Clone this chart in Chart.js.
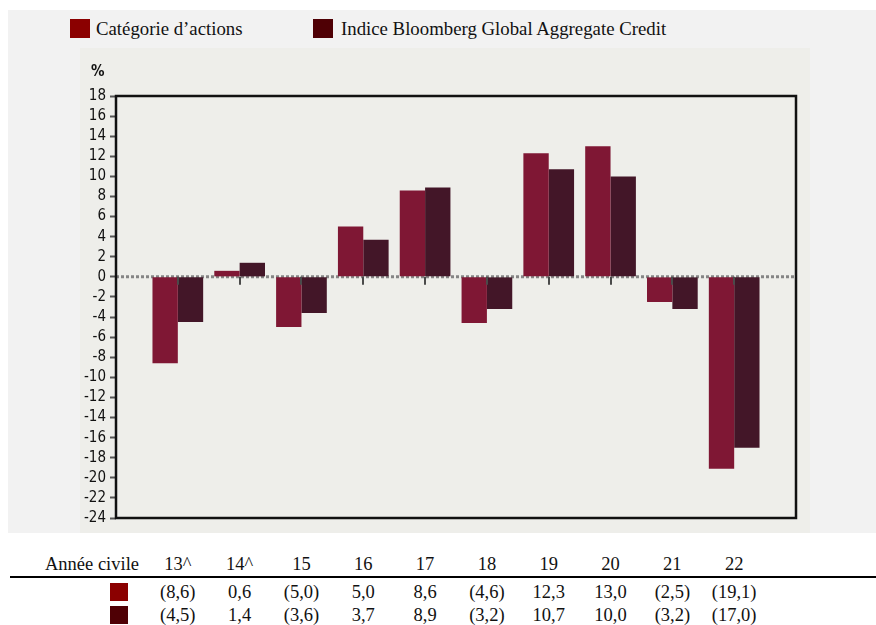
<!DOCTYPE html>
<html>
<head>
<meta charset="utf-8">
<script src="https://cdn.jsdelivr.net/npm/chart.js@4.4.1/dist/chart.umd.min.js"></script>
<style>
  body { margin: 0; background: #fff; width: 876px; height: 625px; position: relative; overflow: hidden;
         font-family: "Liberation Serif", "Times New Roman", serif; color: #111; }
  #outer { position: absolute; left: 8px; top: 10px; width: 868px; height: 523px; background: #f2f2f2; }
  #panel { position: absolute; left: 80px; top: 48px; width: 730px; height: 485px; background: #eeeeea; }
  .sw { position: absolute; width: 20px; height: 19px; }
  .lg { position: absolute; font-size: 18.8px; line-height: 20px; white-space: nowrap; }
  #pct { position: absolute; left: 91px; top: 62px; font-family: "DejaVu Sans Condensed", sans-serif; font-size: 15px; font-weight: bold; }
  .cell { position: absolute; font-size: 18.5px; line-height: 20px; white-space: nowrap; transform: translateX(-50%); }
  #rule { position: absolute; left: 10px; top: 576px; width: 866px; height: 2px; background: #000; }
</style>
</head>
<body>
<div id="outer"></div>
<div id="panel"><canvas id="chart"></canvas></div>
<div class="sw" style="left:70px;top:19px;background:#8b0000"></div>
<div class="lg" style="left:96px;top:19px">Catégorie d’actions</div>
<div class="sw" style="left:313px;top:19px;background:#4f0005"></div>
<div class="lg" style="left:341px;top:19px">Indice Bloomberg Global Aggregate Credit</div>
<div id="pct">%</div>
<div id="rule"></div>
<div id="table"></div>
<script>
// Data
const categories = ["13^", "14^", "15", "16", "17", "18", "19", "20", "21", "22"];
const fundReturns = [-8.6, 0.6, -5.0, 5.0, 8.6, -4.6, 12.3, 13.0, -2.5, -19.1];
const indexReturns = [-4.5, 1.4, -3.6, 3.7, 8.9, -3.2, 10.7, 10.0, -3.2, -17.0];
const seriesNames = ["Catégorie d’actions", "Indice Bloomberg Global Aggregate Credit"];
const yMin = -24, yMax = 18, yStep = 2;

const barColors = ["#7f1734", "#431628"];
const swatchColors = ["#8b0000", "#4f0005"];

// zero line, category ticks and frame
const framePlugin = {
  id: "frame",
  beforeDatasetsDraw(chart) {
    const { ctx, chartArea: a, scales: { y } } = chart;
    const y0 = y.getPixelForValue(0);
    ctx.save();
    ctx.strokeStyle = "#858585";
    ctx.lineWidth = 3;
    ctx.setLineDash([3, 2]);
    ctx.beginPath();
    ctx.moveTo(a.left, y0);
    ctx.lineTo(a.right, y0);
    ctx.stroke();
    ctx.restore();
  },
  afterDatasetsDraw(chart) {
    const { ctx, chartArea: a, scales: { x, y } } = chart;
    const y0 = y.getPixelForValue(0);
    ctx.save();
    ctx.strokeStyle = "#4a4a4a";
    ctx.lineWidth = 2;
    categories.forEach((c, i) => {
      const px = Math.round(x.getPixelForValue(i + 1));
      ctx.beginPath();
      ctx.moveTo(px, y0);
      ctx.lineTo(px, y0 + 8);
      ctx.stroke();
    });
    ctx.strokeStyle = "#111";
    ctx.lineWidth = 2.5;
    ctx.strokeRect(a.left, a.top, a.right - a.left, a.bottom - a.top);
    ctx.restore();
  }
};

const chart = new Chart(document.getElementById("chart"), {
  type: "bar",
  data: {
    datasets: [
      {
        label: seriesNames[0],
        data: fundReturns.map((v, i) => ({ x: i + 1, y: v })),
        backgroundColor: barColors[0],
      },
      {
        label: seriesNames[1],
        data: indexReturns.map((v, i) => ({ x: i + 1, y: v })),
        backgroundColor: barColors[1],
      },
    ],
  },
  options: {
    responsive: true,
    maintainAspectRatio: false,
    animation: false,
    categoryPercentage: 0.82,
    barPercentage: 1,
    layout: { padding: { top: 48, right: 14, bottom: 15, left: 0 } },
    plugins: { legend: { display: false }, tooltip: { enabled: false } },
    scales: {
      x: {
        type: "linear",
        min: 0,
        max: categories.length + 1,
        offset: false,
        display: false,
      },
      y: {
        min: yMin,
        max: yMax,
        afterFit(scale) { scale.width = 36; },
        border: { display: false },
        grid: { drawOnChartArea: false, drawTicks: true, tickLength: 6, tickColor: "#555", tickWidth: 2 },
        ticks: {
          stepSize: yStep,
          autoSkip: false,
          padding: 4,
          color: "#111",
          font: { family: "'DejaVu Sans Condensed', sans-serif", size: 15 },
          callback: (v) => String(v),
        },
      },
    },
  },
  plugins: [framePlugin],
});

// table under the chart, columns aligned with the bars
function fmt(v) {
  const s = Math.abs(v).toFixed(1).replace(".", ",");
  return v < 0 ? "(" + s + ")" : s;
}
const table = document.getElementById("table");
const panelLeft = 80;
function addCell(text, left, top) {
  const d = document.createElement("div");
  d.className = "cell";
  d.style.left = left + "px";
  d.style.top = top + "px";
  d.textContent = text;
  table.appendChild(d);
}
addCell("Année civile", 92, 554);
categories.forEach((c, i) => {
  const px = panelLeft + chart.scales.x.getPixelForValue(i + 1);
  addCell(c, px, 554);
  addCell(fmt(fundReturns[i]), px, 582);
  addCell(fmt(indexReturns[i]), px, 605);
});
[583, 606].forEach((top, k) => {
  const s = document.createElement("div");
  s.className = "sw";
  s.style.left = "110px";
  s.style.top = top + "px";
  s.style.width = "18px";
  s.style.height = "18px";
  s.style.background = swatchColors[k];
  table.appendChild(s);
});
</script>
</body>
</html>
